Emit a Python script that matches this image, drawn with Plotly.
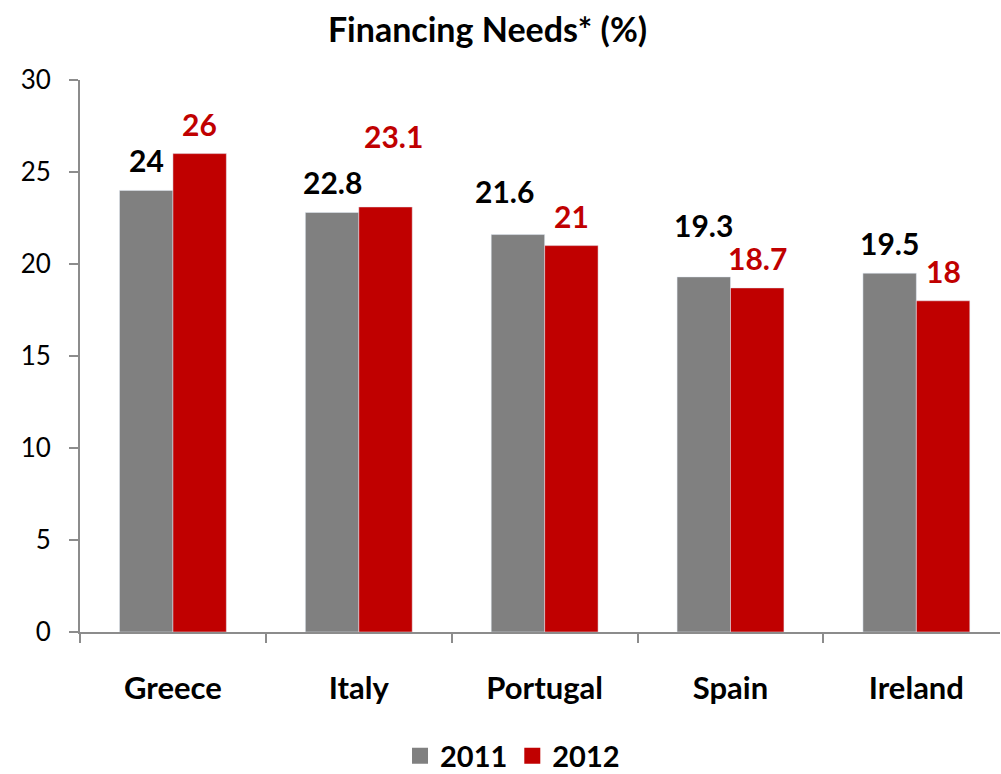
import plotly.graph_objects as go

countries = ["Greece", "Italy", "Portugal", "Spain", "Ireland"]
needs_2011 = [24, 22.8, 21.6, 19.3, 19.5]
needs_2012 = [26, 23.1, 21, 18.7, 18]
labels_2011 = ["24", "22.8", "21.6", "19.3", "19.5"]
labels_2012 = ["26", "23.1", "21", "18.7", "18"]

GRAY = "#808080"
RED = "#C00000"
AXIS = "#8C8C8C"
FONT = "Lato, 'Open Sans', sans-serif"

BARGAP = 0.425
half = (1 - BARGAP) / 4  # centre offset of each bar in a pair of two
LABEL_GAP = 30  # px from bar top to label centre

# hand nudges (px) for labels the original dragged around
lift_2011 = [0, 0, 14, 22, 0]
lift_2012 = [0, 41, 0, 0, 0]
shift_2011 = [0, 0, -13, 0, 0]
shift_2012 = [0, 8, 0, 0, 0]

fig = go.Figure()
for name, vals, color in [("2011", needs_2011, GRAY), ("2012", needs_2012, RED)]:
    fig.add_trace(go.Bar(x=countries, y=vals, name=name, marker_color=color, showlegend=False))
    # legend-only entry so the key gets a bigger square
    fig.add_trace(go.Scatter(
        x=[None], y=[None], mode="markers", name=name,
        marker=dict(symbol="square", size=16, color=color),
    ))

for i in range(len(countries)):
    fig.add_annotation(
        x=i - half, y=needs_2011[i], xref="x", yref="y", text=labels_2011[i],
        showarrow=False, yanchor="middle",
        yshift=LABEL_GAP + lift_2011[i], xshift=shift_2011[i],
        font=dict(family=FONT, size=30, color="black", weight="bold"),
    )
    fig.add_annotation(
        x=i + half, y=needs_2012[i], xref="x", yref="y", text=labels_2012[i],
        showarrow=False, yanchor="middle",
        yshift=LABEL_GAP + lift_2012[i], xshift=shift_2012[i],
        font=dict(family=FONT, size=30, color=RED, weight="bold"),
    )

fig.update_layout(
    width=1001,
    height=774,
    barmode="group",
    bargap=BARGAP,
    bargroupgap=0,
    plot_bgcolor="white",
    paper_bgcolor="white",
    font=dict(family=FONT, color="black"),
    margin=dict(l=80, r=1, t=80, b=142, pad=0),
    title=dict(
        text="<b>Financing Needs* (%)</b>",
        x=0.487, xanchor="center", y=1 - 30 / 774, yanchor="middle", yref="container",
        font=dict(family=FONT, size=34, color="black"),
    ),
    legend=dict(
        orientation="h", x=0.512, xanchor="center", xref="container",
        y=18 / 774, yanchor="middle", yref="container",
        font=dict(family=FONT, size=29, color="black", weight="bold"),
        itemwidth=30, traceorder="normal", tracegroupgap=0,
    ),
    showlegend=True,
)

fig.update_xaxes(
    range=[-0.5, 4.45], automargin=False,
    showline=True, linecolor=AXIS, linewidth=2,
    ticks="outside", tickson="boundaries", ticklen=9, tickcolor=AXIS, tickwidth=2,
    tickfont=dict(family=FONT, size=31, color="black", weight="bold"),
    ticklabelstandoff=28,
    showgrid=False, zeroline=False,
)
fig.update_yaxes(
    range=[0, 30], dtick=5, automargin=False,
    showline=True, linecolor=AXIS, linewidth=2,
    ticks="outside", ticklen=9, tickcolor=AXIS, tickwidth=2,
    tickfont=dict(family=FONT, size=26, color="black"),
    ticklabelstandoff=13,
    showgrid=False, zeroline=False,
)

fig.write_html(
    "out.html",
    config={"displayModeBar": False},
    post_script="document.body.style.margin='0';",
)
